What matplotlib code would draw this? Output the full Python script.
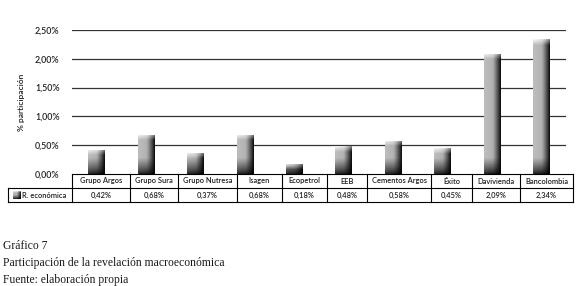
import numpy as np
import matplotlib
matplotlib.use("Agg")
from matplotlib import pyplot as plt
from matplotlib.lines import Line2D

# data
empresas = ["Grupo Argos", "Grupo Sura", "Grupo Nutresa", "Isagen", "Ecopetrol",
            "EEB", "Cementos Argos", "Éxito", "Davivienda", "Bancolombia"]
valores = [0.42, 0.68, 0.37, 0.68, 0.18, 0.48, 0.58, 0.45, 2.09, 2.34]
serie = "R. económica"
yticks = [0.0, 0.5, 1.0, 1.5, 2.0, 2.5]
caption = ["Gráfico 7",
           "Participación de la revelación macroeconómica",
           "Fuente: elaboración propia"]

W, H = 580, 286
fig = plt.figure(figsize=(W / 100, H / 100), dpi=100)
fig.patch.set_facecolor("white")

def fx(x):
    return x / W

def fy(y):
    return 1 - y / H

# plot area in pixels (from top-left)
x0, x1, ytop, ybot = 72, 566, 30, 174
ax = fig.add_axes([fx(x0), fy(ybot), (x1 - x0) / W, (ybot - ytop) / H])
ax.set_xlim(-0.5, len(empresas) - 0.5)
ax.set_ylim(0, 2.5)
for s in ax.spines.values():
    s.set_visible(False)
ax.set_xticks([])
ax.set_yticks(yticks)
ax.set_yticklabels([f"{v:.2f}%".replace(".", ",") for v in yticks],
                   fontsize=6.4, family="Lato", fontweight="semibold",
                   color="#222222")
ax.tick_params(axis="y", length=0, pad=9)
for v in yticks[1:]:
    ax.axhline(v, color="#333333", lw=0.9, zorder=1)
ax.set_ylabel("% participación", fontsize=6, family="Lato",
              fontweight="semibold", color="#222222", labelpad=7)


def gradient(h, nx=40, ny=200):
    u = np.linspace(0, 1, nx)[None, :]
    t = np.linspace(h, 0, ny)[:, None]  # top row first
    hv = 0.74 - 0.08 * u - 0.62 * np.clip((u - 0.5) / 0.5, 0, 1) ** 1.2
    # bottom darkening
    bot = np.clip(t / 0.28, 0, 1) ** 0.8
    img = hv * (0.06 + 0.94 * bot)
    img = img + (0.15 * (1 - bot) * (1 - u)) * 0.6
    # top highlight
    cap = np.clip(1 - (h - t) / 0.1, 0, 1)
    img = img + (0.97 - img) * cap * (1 - 0.5 * u)
    return np.clip(img, 0, 1)


bars = ax.bar(range(len(empresas)), valores, width=0.34, color="none",
              edgecolor="none", zorder=2)
for b in bars:
    h = b.get_height()
    im = ax.imshow(gradient(h), cmap="gray", vmin=0, vmax=1, aspect="auto",
                   extent=[b.get_x(), b.get_x() + b.get_width(), 0, h],
                   zorder=3, interpolation="bilinear")
    im.set_clip_path(b)
ax.set_xlim(-0.5, len(empresas) - 0.5)
ax.set_ylim(0, 2.5)

# table under the chart
edges = [72, 130, 178, 237, 282, 327, 367, 431, 472, 520, 573]
r0, r1, r2 = 174, 188, 202
lx = 8
lines = [
    ([edges[0], edges[-1]], [r0, r0]),
    ([lx, edges[-1]], [r1, r1]),
    ([lx, edges[-1]], [r2, r2]),
    ([lx, lx], [r1, r2]),
]
for e in edges:
    lines.append(([e, e], [r0, r2]))
for xs, ys in lines:
    fig.add_artist(Line2D([fx(v) for v in xs], [fy(v) for v in ys],
                          color="black", lw=0.8))

tkw = dict(fontsize=5.4, family="Lato", fontweight="semibold", color="#222222")
for i, name in enumerate(empresas):
    cx = (edges[i] + edges[i + 1]) / 2
    fig.text(fx(cx), fy((r0 + r1) / 2), name, ha="center", va="center", **tkw)
    fig.text(fx(cx), fy((r1 + r2) / 2), f"{valores[i]:.2f}%".replace(".", ","),
             ha="center", va="center", **tkw)

# legend key in the table
kax = fig.add_axes([fx(13), fy(199), 8 / W, 8 / H])
kax.imshow(gradient(0.5, 20, 20), cmap="gray", vmin=0, vmax=1, aspect="auto")
kax.axis("off")
fig.text(fx(22), fy((r1 + r2) / 2), serie, ha="left", va="center", **tkw)

# caption
for k, line in enumerate(caption):
    fig.text(fx(3), fy(246 + k * 17), line, ha="left", va="center",
             fontsize=8.4, family="Liberation Serif", color="#1a1a1a")

fig.savefig("out.png", dpi=100, facecolor="white")
